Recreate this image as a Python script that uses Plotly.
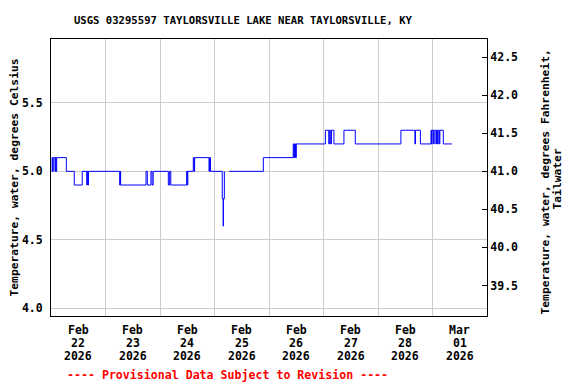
import plotly.graph_objects as go

# ---- data (change points; value holds until next time) ----
times = [
    "2026-02-22 00:15", "2026-02-22 00:30", "2026-02-22 00:45", "2026-02-22 01:00",
    "2026-02-22 01:45", "2026-02-22 02:00", "2026-02-22 02:15", "2026-02-22 02:30",
    "2026-02-22 06:45", "2026-02-22 10:15", "2026-02-22 13:45", "2026-02-22 15:45",
    "2026-02-22 16:00", "2026-02-22 16:15", "2026-02-22 16:30",
    "2026-02-23 06:15", "2026-02-23 06:30", "2026-02-23 06:40",
    "2026-02-23 17:50", "2026-02-23 18:25", "2026-02-23 20:00", "2026-02-23 20:30",
    "2026-02-23 21:00",
    "2026-02-24 03:40", "2026-02-24 04:15", "2026-02-24 04:45", "2026-02-24 11:45",
    "2026-02-24 12:00", "2026-02-24 12:15", "2026-02-24 14:40", "2026-02-24 15:00",
    "2026-02-24 15:15", "2026-02-24 21:35", "2026-02-24 21:50", "2026-02-24 22:15",
    "2026-02-25 03:25", "2026-02-25 03:50", "2026-02-25 03:55", "2026-02-25 04:20",
    "2026-02-25 04:25", "2026-02-25 06:25", "2026-02-25 21:30",
    "2026-02-26 10:40", "2026-02-26 11:00", "2026-02-26 11:10", "2026-02-26 11:25",
    "2026-02-26 11:35", "2026-02-26 11:50", "2026-02-26 12:00",
    "2026-02-27 00:50", "2026-02-27 02:20", "2026-02-27 02:35", "2026-02-27 03:10",
    "2026-02-27 03:30", "2026-02-27 04:35", "2026-02-27 09:00", "2026-02-27 14:00",
    "2026-02-28 10:05", "2026-02-28 16:15", "2026-02-28 16:30", "2026-02-28 18:40",
    "2026-02-28 23:20", "2026-02-28 23:35", "2026-02-28 23:50",
    "2026-03-01 00:30", "2026-03-01 00:45", "2026-03-01 01:30", "2026-03-01 01:45",
    "2026-03-01 02:15", "2026-03-01 02:30", "2026-03-01 03:00", "2026-03-01 03:15",
    "2026-03-01 04:45", "2026-03-01 08:30",
]
temps_c = [
    5.0, 5.1, 5.0, 5.1,
    5.0, 5.1, 5.0, 5.1,
    5.0, 4.9, 5.0, 4.9,
    5.0, 4.9, 5.0,
    4.9, 5.0, 4.9,
    5.0, 4.9, 5.0, 4.9,
    5.0,
    4.9, 5.0, 4.9, 5.0,
    4.9, 5.0, 5.1, 5.0,
    5.1, 5.0, 5.1, 5.0,
    4.8, 4.6, 4.8, 5.0,
    None, 5.0, 5.1,
    5.2, 5.1, 5.2, 5.1,
    5.2, 5.1, 5.2,
    5.3, 5.2, 5.3, 5.2,
    5.3, 5.2, 5.3, 5.2,
    5.3, 5.2, 5.3, 5.2,
    5.3, 5.2, 5.3,
    5.2, 5.3, 5.2, 5.3,
    5.2, 5.3, 5.2, 5.3,
    5.2, 5.2,
]
temps_f = [None if v is None else v * 1.8 + 32 for v in temps_c]

c_range = [3.944, 5.966]
f_range = [c_range[0] * 1.8 + 32, c_range[1] * 1.8 + 32]
c_ticks = [4.0, 4.5, 5.0, 5.5]
f_ticks = [39.5, 40.0, 40.5, 41.0, 41.5, 42.0, 42.5]

grid_days = ["2026-02-23", "2026-02-24", "2026-02-25", "2026-02-26",
             "2026-02-27", "2026-02-28", "2026-03-01"]
label_days = ["2026-02-22 12:00", "2026-02-23 12:00", "2026-02-24 12:00", "2026-02-25 12:00",
              "2026-02-26 12:00", "2026-02-27 12:00", "2026-02-28 12:00", "2026-03-01 12:00"]
label_months = ["Feb", "Feb", "Feb", "Feb", "Feb", "Feb", "Feb", "Mar"]
label_dnums = ["22", "23", "24", "25", "26", "27", "28", "01"]
label_years = ["2026"] * 8

FONT = "DejaVu Sans Mono"

fig = go.Figure()
fig.add_trace(go.Scatter(x=times, y=temps_c, mode="lines",
                         line=dict(color="#0000ff", width=1, shape="hv"),
                         connectgaps=False, showlegend=False))
fig.add_trace(go.Scatter(x=times, y=temps_f, mode="lines", yaxis="y2",
                         line=dict(color="rgba(0,0,0,0)", width=0, shape="hv"),
                         hoverinfo="skip", showlegend=False))

annotations = []
for xd, m, d, yv in zip(label_days, label_months, label_dnums, label_years):
    for txt, sh in ((m, -14), (d, -27), (yv, -40)):
        annotations.append(dict(x=xd, xref="x", y=0, yref="paper", yshift=sh,
                                text=txt, showarrow=False, xanchor="center",
                                yanchor="middle",
                                font=dict(family=FONT, size=11.5, color="black", weight="bold")))

annotations.append(dict(x=0, xref="paper", xshift=-37, y=0.5, yref="paper", yshift=0,
                        text="Temperature, water, degrees Celsius", textangle=-90,
                        showarrow=False, xanchor="center", yanchor="middle",
                        font=dict(family=FONT, size=11.3, color="black", weight="bold")))
annotations.append(dict(x=1, xref="paper", xshift=58, y=0.5, yref="paper", yshift=-5,
                        text="Temperature, water, degrees Fahrenheit,", textangle=-90,
                        showarrow=False, xanchor="center", yanchor="middle",
                        font=dict(family=FONT, size=11.3, color="black", weight="bold")))
annotations.append(dict(x=1, xref="paper", xshift=70, y=0.5, yref="paper", yshift=-2,
                        text="Tailwater", textangle=-90,
                        showarrow=False, xanchor="center", yanchor="middle",
                        font=dict(family=FONT, size=11.3, color="black", weight="bold")))
annotations.append(dict(x=0, xref="paper", xshift=176.5, y=0, yref="paper", yshift=-59,
                        text="---- Provisional Data Subject to Revision ----",
                        showarrow=False, xanchor="center", yanchor="middle",
                        font=dict(family=FONT, size=11.6, color="#ff0000", weight="bold")))

fig.update_layout(
    width=576, height=384,
    margin=dict(l=51, r=89, t=39, b=68),
    paper_bgcolor="white", plot_bgcolor="white",
    font=dict(family=FONT, size=11.5, color="black", weight="bold"),
    title=dict(text="USGS 03295597 TAYLORSVILLE LAKE NEAR TAYLORSVILLE, KY",
               x=243 / 576, xref="container", xanchor="center",
               y=1 - 20.5 / 384, yref="container", yanchor="middle",
               font=dict(family=FONT, size=10.6, color="black", weight="bold")),
    xaxis=dict(type="date", range=["2026-02-22 00:00", "2026-03-02 00:00"],
               tickvals=grid_days, showticklabels=False, ticks="",
               showgrid=True, gridcolor="#cccccc", gridwidth=1,
               showline=True, linecolor="black", linewidth=1, mirror=True,
               zeroline=False),
    yaxis=dict(range=c_range, tickvals=c_ticks, ticktext=[f"{v:.1f}" for v in c_ticks],
               ticks="outside", ticklen=5, tickcolor="rgba(0,0,0,0)",
               showgrid=True, gridcolor="#cccccc", gridwidth=1,
               showline=True, linecolor="black", linewidth=1, mirror=True,
               zeroline=False),
    yaxis2=dict(range=f_range, overlaying="y", side="right",
                tickvals=f_ticks, ticktext=[f"{v:.1f}" for v in f_ticks],
                ticks="inside", ticklen=5, tickcolor="black",
                showgrid=False, showline=True, linecolor="black", linewidth=1,
                zeroline=False),
    annotations=annotations,
    showlegend=False,
)

fig.write_html("out.html")
